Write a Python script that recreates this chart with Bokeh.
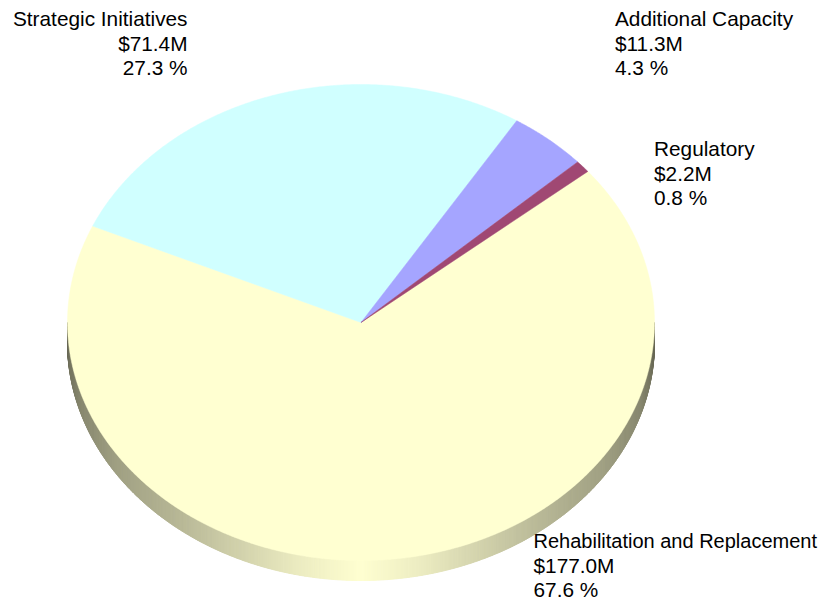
import numpy as np
from bokeh.plotting import figure
from bokeh.embed import file_html
from bokeh.resources import INLINE
from bokeh.core.properties import value

categories = ["Rehabilitation and Replacement", "Strategic Initiatives", "Additional Capacity", "Regulatory"]
amounts = [177.0, 71.4, 11.3, 2.2]
amount_labels = ["$177.0M", "$71.4M", "$11.3M", "$2.2M"]
percent_labels = ["67.6 %", "27.3 %", "4.3 %", "0.8 %"]
colors = ["#FFFFD1", "#D0FFFF", "#A5A5FF", "#A04873"]

W, H = 822, 602
CX, CY = 360.5, H - 322.0
RX, RY, DEPTH = 293.5, 238.0, 20.0
START = np.deg2rad(39.4)

p = figure(width=W, height=H, x_range=(0, W), y_range=(0, H), output_backend="svg",
           toolbar_location=None, min_border=0, outline_line_color=None)
p.axis.visible = False
p.grid.visible = False
p.background_fill_color = "white"
p.border_fill_color = "white"


def shade(x):
    f = np.abs(x - CX) / RX
    k = np.interp(f, [0, 0.2, 0.42, 0.6, 0.83, 0.95, 0.99, 1.0],
                  [1.0, 0.93, 0.82, 0.73, 0.63, 0.54, 0.46, 0.4])
    r = int(255 * k)
    b = int(209 * k)
    return f"#{r:02x}{r:02x}{b:02x}"


# rim
t = np.linspace(np.pi, 2 * np.pi, 721)
xs, ys, cs = [], [], []
for a, b in zip(t[:-1], t[1:]):
    xa, xb = CX + RX * np.cos(a), CX + RX * np.cos(b)
    ya, yb = CY + RY * np.sin(a), CY + RY * np.sin(b)
    xs.append([xa, xb, xb, xa])
    ys.append([ya, yb, yb - DEPTH, ya - DEPTH])
    cs.append(shade((xa + xb) / 2))
p.patches(xs, ys, fill_color=cs, line_color=cs, line_width=1)

# top face
total = sum(amounts)
angle = START
for amt, col in zip(amounts, colors):
    sweep = 2 * np.pi * amt / total
    a = np.linspace(angle, angle - sweep, max(3, int(amt * 4)))
    px = np.concatenate([[CX], CX + RX * np.cos(a)])
    py = np.concatenate([[CY], CY + RY * np.sin(a)])
    p.patch(px, py, fill_color=col, line_color=col, line_width=0.5)
    angle -= sweep

# labels: name, amount, percent; anchored in page pixels
label_pos = {
    "Rehabilitation and Replacement": (533, 540, "left", "20px"),
    "Strategic Initiatives": (187, 18, "right", "20.8px"),
    "Additional Capacity": (614.5, 18, "left", "20.8px"),
    "Regulatory": (653.5, 148, "left", "20.8px"),
}
LINE = 24.5
for name, amt, pct in zip(categories, amount_labels, percent_labels):
    x, y, al, size = label_pos[name]
    for i, s in enumerate([name, amt, pct]):
        p.text([x], [H - y - i * LINE], text=[s], text_font=value("Liberation Sans"),
               text_font_size=size if i == 0 else "20.8px", text_color="#000000",
               text_align=al, text_baseline="middle")

open("out.html", "w").write(file_html(p, INLINE))
